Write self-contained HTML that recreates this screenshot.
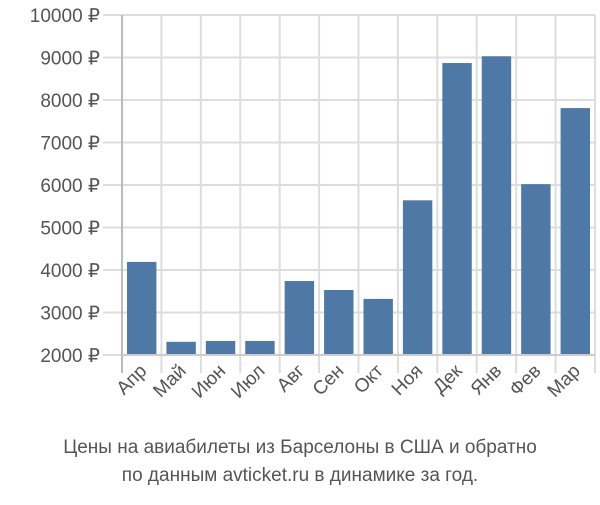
<!DOCTYPE html>
<html><head><meta charset="utf-8"><style>
body{margin:0;background:#fff;width:600px;height:500px;overflow:hidden}
svg text{font-family:"Liberation Sans",sans-serif}
</style></head><body>
<svg id="c" width="600" height="500">
<g id="grid"></g>
<g id="bars"></g>
<g id="axes"></g>
<text x="300" y="453" text-anchor="middle" font-size="19" fill="#555">Цены на авиабилеты из Барселоны в США и обратно</text>
<text x="300" y="481" text-anchor="middle" font-size="19" fill="#555">по данным avticket.ru в динамике за год.</text>
</svg>
<script>
const categories=["Апр","Май","Июн","Июл","Авг","Сен","Окт","Ноя","Дек","Янв","Фев","Мар"];
const values=[4190,2310,2330,2330,3740,3530,3320,5640,8870,9030,6020,7810];
const yTicks=[2000,3000,4000,5000,6000,7000,8000,9000,10000];
const ns="http://www.w3.org/2000/svg";
const L=122,R=595,T=15,B=355,ymin=2000,ymax=10000;
const step=(R-L)/categories.length;
const y=v=>B-(v-ymin)/(ymax-ymin)*(B-T);
const x=i=>L+i*step;
function mk(t,a,p){const e=document.createElementNS(ns,t);for(const k in a)e.setAttribute(k,a[k]);p.appendChild(e);return e;}
const g=document.getElementById('grid'),bg=document.getElementById('bars'),ax=document.getElementById('axes');
yTicks.forEach(v=>{
 const l=mk('line',{x1:103,x2:R,y1:y(v),y2:y(v),stroke:'#ddd','stroke-width':2},g);
 
 
 const t=mk('text',{x:100,y:y(v)+7,'text-anchor':'end','font-size':19,fill:'#555'},ax);
 t.textContent=v+' ₽';
 
 
});
for(let i=1;i<=categories.length;i++){
 const l=mk('line',{x1:x(i),x2:x(i),y1:T,y2:373,stroke:'#ddd','stroke-width':2},g);
 
 
}
categories.forEach((c,i)=>{
 const r=mk('rect',{x:x(i)+5,y:y(values[i]),width:step-10,height:B-y(values[i]),fill:'#4e79a7'},bg);
 
 
 const cx=x(i)+step/2+6;
 const t=mk('text',{x:cx,y:372,'text-anchor':'end','font-size':19,fill:'#555',transform:`rotate(-45 ${cx} 372)`},ax);
 t.textContent=c;
 
 
});
const a=mk('line',{x1:L,x2:L,y1:T,y2:373,stroke:'#bbb','stroke-width':2},ax);


const b=mk('line',{x1:L,x2:R,y1:B,y2:B,stroke:'#ccc','stroke-width':2},ax);


</script>
</body></html>
